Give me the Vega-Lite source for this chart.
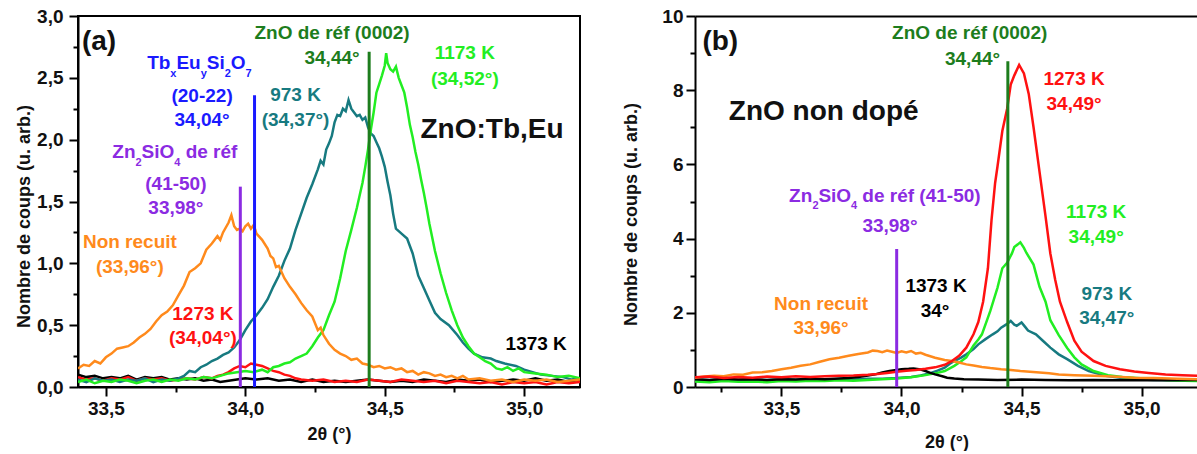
{
  "$schema": "https://vega.github.io/schema/vega-lite/v6.json",
  "background": "white",
  "padding": {"left": 14, "top": 6, "right": 0, "bottom": 0},
  "autosize": {"type": "pad"},
  "spacing": 41,
  "resolve": {"scale": {"x": "independent", "y": "independent"}},
  "config": {
    "font": "Liberation Sans",
    "view": {"stroke": "#000000", "strokeWidth": 2},
    "axis": {
      "grid": false,
      "domainColor": "#000000", "domainWidth": 2,
      "tickColor": "#000000", "tickWidth": 2, "tickSize": 9,
      "labelFont": "Liberation Sans", "labelFontSize": 19, "labelFontWeight": "bold", "labelColor": "#111111",
      "labelPadding": 6,
      "titleFont": "Liberation Sans", "titleFontSize": 18, "titleFontWeight": "bold", "titleColor": "#111111"
    },
    "text": {"font": "Liberation Sans", "fontWeight": "bold"}
  },
  "datasets": {
    "a_curves": [
      {"s":"1373 K","x":33.40,"y":0.10},{"s":"1373 K","x":33.43,"y":0.08},{"s":"1373 K","x":33.46,"y":0.09},{"s":"1373 K","x":33.49,"y":0.07},{"s":"1373 K","x":33.52,"y":0.08},{"s":"1373 K","x":33.55,"y":0.07},{"s":"1373 K","x":33.58,"y":0.09},{"s":"1373 K","x":33.61,"y":0.06},{"s":"1373 K","x":33.64,"y":0.08},{"s":"1373 K","x":33.67,"y":0.07},{"s":"1373 K","x":33.70,"y":0.08},{"s":"1373 K","x":33.73,"y":0.06},{"s":"1373 K","x":33.76,"y":0.07},{"s":"1373 K","x":33.79,"y":0.06},{"s":"1373 K","x":33.82,"y":0.07},{"s":"1373 K","x":33.85,"y":0.05},{"s":"1373 K","x":33.88,"y":0.06},{"s":"1373 K","x":33.91,"y":0.04},{"s":"1373 K","x":33.94,"y":0.05},{"s":"1373 K","x":33.97,"y":0.06},{"s":"1373 K","x":34.00,"y":0.07},{"s":"1373 K","x":34.04,"y":0.06},{"s":"1373 K","x":34.08,"y":0.07},{"s":"1373 K","x":34.12,"y":0.05},{"s":"1373 K","x":34.16,"y":0.06},{"s":"1373 K","x":34.20,"y":0.04},{"s":"1373 K","x":34.24,"y":0.06},{"s":"1373 K","x":34.28,"y":0.04},{"s":"1373 K","x":34.32,"y":0.05},{"s":"1373 K","x":34.36,"y":0.04},{"s":"1373 K","x":34.40,"y":0.05},{"s":"1373 K","x":34.44,"y":0.06},{"s":"1373 K","x":34.48,"y":0.05},{"s":"1373 K","x":34.52,"y":0.04},{"s":"1373 K","x":34.56,"y":0.05},{"s":"1373 K","x":34.60,"y":0.04},{"s":"1373 K","x":34.64,"y":0.06},{"s":"1373 K","x":34.68,"y":0.05},{"s":"1373 K","x":34.72,"y":0.04},{"s":"1373 K","x":34.76,"y":0.06},{"s":"1373 K","x":34.80,"y":0.05},{"s":"1373 K","x":34.84,"y":0.06},{"s":"1373 K","x":34.88,"y":0.04},{"s":"1373 K","x":34.92,"y":0.05},{"s":"1373 K","x":34.96,"y":0.06},{"s":"1373 K","x":35.00,"y":0.05},{"s":"1373 K","x":35.04,"y":0.07},{"s":"1373 K","x":35.08,"y":0.05},{"s":"1373 K","x":35.12,"y":0.06},{"s":"1373 K","x":35.16,"y":0.04},{"s":"1373 K","x":35.20,"y":0.06},
      {"s":"1273 K","x":33.40,"y":0.08},{"s":"1273 K","x":33.43,"y":0.06},{"s":"1273 K","x":33.46,"y":0.07},{"s":"1273 K","x":33.49,"y":0.05},{"s":"1273 K","x":33.52,"y":0.07},{"s":"1273 K","x":33.55,"y":0.06},{"s":"1273 K","x":33.58,"y":0.08},{"s":"1273 K","x":33.61,"y":0.05},{"s":"1273 K","x":33.64,"y":0.07},{"s":"1273 K","x":33.67,"y":0.06},{"s":"1273 K","x":33.70,"y":0.07},{"s":"1273 K","x":33.73,"y":0.05},{"s":"1273 K","x":33.76,"y":0.06},{"s":"1273 K","x":33.79,"y":0.07},{"s":"1273 K","x":33.82,"y":0.06},{"s":"1273 K","x":33.85,"y":0.08},{"s":"1273 K","x":33.88,"y":0.07},{"s":"1273 K","x":33.90,"y":0.09},{"s":"1273 K","x":33.92,"y":0.10},{"s":"1273 K","x":33.94,"y":0.12},{"s":"1273 K","x":33.96,"y":0.15},{"s":"1273 K","x":33.98,"y":0.17},{"s":"1273 K","x":34.00,"y":0.16},{"s":"1273 K","x":34.02,"y":0.19},{"s":"1273 K","x":34.04,"y":0.18},{"s":"1273 K","x":34.06,"y":0.17},{"s":"1273 K","x":34.08,"y":0.15},{"s":"1273 K","x":34.10,"y":0.13},{"s":"1273 K","x":34.12,"y":0.12},{"s":"1273 K","x":34.14,"y":0.10},{"s":"1273 K","x":34.16,"y":0.09},{"s":"1273 K","x":34.18,"y":0.07},{"s":"1273 K","x":34.20,"y":0.06},{"s":"1273 K","x":34.24,"y":0.05},{"s":"1273 K","x":34.28,"y":0.06},{"s":"1273 K","x":34.32,"y":0.04},{"s":"1273 K","x":34.36,"y":0.05},{"s":"1273 K","x":34.40,"y":0.04},{"s":"1273 K","x":34.44,"y":0.06},{"s":"1273 K","x":34.48,"y":0.05},{"s":"1273 K","x":34.52,"y":0.04},{"s":"1273 K","x":34.56,"y":0.06},{"s":"1273 K","x":34.60,"y":0.05},{"s":"1273 K","x":34.64,"y":0.04},{"s":"1273 K","x":34.68,"y":0.05},{"s":"1273 K","x":34.72,"y":0.03},{"s":"1273 K","x":34.76,"y":0.05},{"s":"1273 K","x":34.80,"y":0.04},{"s":"1273 K","x":34.84,"y":0.03},{"s":"1273 K","x":34.88,"y":0.04},{"s":"1273 K","x":34.92,"y":0.02},{"s":"1273 K","x":34.96,"y":0.04},{"s":"1273 K","x":35.00,"y":0.03},{"s":"1273 K","x":35.04,"y":0.04},{"s":"1273 K","x":35.08,"y":0.02},{"s":"1273 K","x":35.12,"y":0.04},{"s":"1273 K","x":35.16,"y":0.03},{"s":"1273 K","x":35.20,"y":0.04},
      {"s":"973 K","x":33.40,"y":0.06},{"s":"973 K","x":33.43,"y":0.04},{"s":"973 K","x":33.46,"y":0.07},{"s":"973 K","x":33.49,"y":0.05},{"s":"973 K","x":33.52,"y":0.06},{"s":"973 K","x":33.55,"y":0.04},{"s":"973 K","x":33.58,"y":0.06},{"s":"973 K","x":33.61,"y":0.05},{"s":"973 K","x":33.64,"y":0.07},{"s":"973 K","x":33.67,"y":0.04},{"s":"973 K","x":33.70,"y":0.06},{"s":"973 K","x":33.73,"y":0.05},{"s":"973 K","x":33.76,"y":0.07},{"s":"973 K","x":33.78,"y":0.09},{"s":"973 K","x":33.80,"y":0.13},{"s":"973 K","x":33.82,"y":0.12},{"s":"973 K","x":33.84,"y":0.16},{"s":"973 K","x":33.86,"y":0.18},{"s":"973 K","x":33.88,"y":0.21},{"s":"973 K","x":33.90,"y":0.23},{"s":"973 K","x":33.92,"y":0.26},{"s":"973 K","x":33.94,"y":0.28},{"s":"973 K","x":33.96,"y":0.32},{"s":"973 K","x":33.98,"y":0.38},{"s":"973 K","x":34.00,"y":0.46},{"s":"973 K","x":34.02,"y":0.53},{"s":"973 K","x":34.04,"y":0.58},{"s":"973 K","x":34.06,"y":0.64},{"s":"973 K","x":34.08,"y":0.71},{"s":"973 K","x":34.10,"y":0.81},{"s":"973 K","x":34.12,"y":0.90},{"s":"973 K","x":34.14,"y":1.02},{"s":"973 K","x":34.16,"y":1.12},{"s":"973 K","x":34.18,"y":1.27},{"s":"973 K","x":34.20,"y":1.40},{"s":"973 K","x":34.22,"y":1.53},{"s":"973 K","x":34.24,"y":1.64},{"s":"973 K","x":34.26,"y":1.76},{"s":"973 K","x":34.27,"y":1.83},{"s":"973 K","x":34.28,"y":1.80},{"s":"973 K","x":34.29,"y":1.92},{"s":"973 K","x":34.30,"y":1.97},{"s":"973 K","x":34.31,"y":2.03},{"s":"973 K","x":34.32,"y":2.14},{"s":"973 K","x":34.33,"y":2.20},{"s":"973 K","x":34.34,"y":2.19},{"s":"973 K","x":34.35,"y":2.25},{"s":"973 K","x":34.36,"y":2.23},{"s":"973 K","x":34.37,"y":2.32},{"s":"973 K","x":34.38,"y":2.25},{"s":"973 K","x":34.39,"y":2.22},{"s":"973 K","x":34.40,"y":2.19},{"s":"973 K","x":34.41,"y":2.20},{"s":"973 K","x":34.42,"y":2.16},{"s":"973 K","x":34.43,"y":2.18},{"s":"973 K","x":34.44,"y":2.10},{"s":"973 K","x":34.45,"y":2.05},{"s":"973 K","x":34.46,"y":2.03},{"s":"973 K","x":34.47,"y":1.98},{"s":"973 K","x":34.48,"y":1.93},{"s":"973 K","x":34.49,"y":1.86},{"s":"973 K","x":34.50,"y":1.78},{"s":"973 K","x":34.51,"y":1.66},{"s":"973 K","x":34.52,"y":1.55},{"s":"973 K","x":34.53,"y":1.40},{"s":"973 K","x":34.54,"y":1.28},{"s":"973 K","x":34.56,"y":1.24},{"s":"973 K","x":34.58,"y":1.20},{"s":"973 K","x":34.60,"y":1.08},{"s":"973 K","x":34.62,"y":0.90},{"s":"973 K","x":34.64,"y":0.80},{"s":"973 K","x":34.66,"y":0.70},{"s":"973 K","x":34.68,"y":0.60},{"s":"973 K","x":34.70,"y":0.55},{"s":"973 K","x":34.73,"y":0.50},{"s":"973 K","x":34.76,"y":0.42},{"s":"973 K","x":34.78,"y":0.36},{"s":"973 K","x":34.80,"y":0.31},{"s":"973 K","x":34.82,"y":0.27},{"s":"973 K","x":34.85,"y":0.24},{"s":"973 K","x":34.88,"y":0.23},{"s":"973 K","x":34.90,"y":0.21},{"s":"973 K","x":34.93,"y":0.19},{"s":"973 K","x":34.97,"y":0.17},{"s":"973 K","x":35.00,"y":0.14},{"s":"973 K","x":35.03,"y":0.12},{"s":"973 K","x":35.06,"y":0.10},{"s":"973 K","x":35.10,"y":0.09},{"s":"973 K","x":35.14,"y":0.08},{"s":"973 K","x":35.17,"y":0.06},{"s":"973 K","x":35.20,"y":0.07},
      {"s":"1173 K","x":33.40,"y":0.04},{"s":"1173 K","x":33.43,"y":0.06},{"s":"1173 K","x":33.46,"y":0.03},{"s":"1173 K","x":33.49,"y":0.05},{"s":"1173 K","x":33.52,"y":0.04},{"s":"1173 K","x":33.55,"y":0.06},{"s":"1173 K","x":33.58,"y":0.05},{"s":"1173 K","x":33.61,"y":0.03},{"s":"1173 K","x":33.64,"y":0.05},{"s":"1173 K","x":33.67,"y":0.06},{"s":"1173 K","x":33.70,"y":0.04},{"s":"1173 K","x":33.73,"y":0.06},{"s":"1173 K","x":33.76,"y":0.05},{"s":"1173 K","x":33.79,"y":0.07},{"s":"1173 K","x":33.82,"y":0.06},{"s":"1173 K","x":33.85,"y":0.08},{"s":"1173 K","x":33.88,"y":0.07},{"s":"1173 K","x":33.91,"y":0.09},{"s":"1173 K","x":33.94,"y":0.11},{"s":"1173 K","x":33.97,"y":0.12},{"s":"1173 K","x":34.00,"y":0.13},{"s":"1173 K","x":34.03,"y":0.12},{"s":"1173 K","x":34.06,"y":0.14},{"s":"1173 K","x":34.08,"y":0.12},{"s":"1173 K","x":34.10,"y":0.16},{"s":"1173 K","x":34.12,"y":0.17},{"s":"1173 K","x":34.14,"y":0.19},{"s":"1173 K","x":34.16,"y":0.20},{"s":"1173 K","x":34.18,"y":0.23},{"s":"1173 K","x":34.20,"y":0.25},{"s":"1173 K","x":34.22,"y":0.27},{"s":"1173 K","x":34.24,"y":0.33},{"s":"1173 K","x":34.26,"y":0.40},{"s":"1173 K","x":34.28,"y":0.46},{"s":"1173 K","x":34.30,"y":0.58},{"s":"1173 K","x":34.32,"y":0.69},{"s":"1173 K","x":34.34,"y":0.88},{"s":"1173 K","x":34.36,"y":1.10},{"s":"1173 K","x":34.38,"y":1.27},{"s":"1173 K","x":34.40,"y":1.45},{"s":"1173 K","x":34.41,"y":1.55},{"s":"1173 K","x":34.42,"y":1.65},{"s":"1173 K","x":34.43,"y":1.78},{"s":"1173 K","x":34.44,"y":1.92},{"s":"1173 K","x":34.45,"y":2.08},{"s":"1173 K","x":34.46,"y":2.22},{"s":"1173 K","x":34.47,"y":2.38},{"s":"1173 K","x":34.48,"y":2.45},{"s":"1173 K","x":34.49,"y":2.52},{"s":"1173 K","x":34.50,"y":2.60},{"s":"1173 K","x":34.505,"y":2.70},{"s":"1173 K","x":34.51,"y":2.62},{"s":"1173 K","x":34.52,"y":2.57},{"s":"1173 K","x":34.53,"y":2.55},{"s":"1173 K","x":34.54,"y":2.59},{"s":"1173 K","x":34.55,"y":2.50},{"s":"1173 K","x":34.56,"y":2.44},{"s":"1173 K","x":34.57,"y":2.38},{"s":"1173 K","x":34.58,"y":2.26},{"s":"1173 K","x":34.59,"y":2.12},{"s":"1173 K","x":34.60,"y":2.02},{"s":"1173 K","x":34.61,"y":1.90},{"s":"1173 K","x":34.62,"y":1.80},{"s":"1173 K","x":34.63,"y":1.68},{"s":"1173 K","x":34.64,"y":1.57},{"s":"1173 K","x":34.65,"y":1.45},{"s":"1173 K","x":34.66,"y":1.32},{"s":"1173 K","x":34.68,"y":1.10},{"s":"1173 K","x":34.70,"y":0.92},{"s":"1173 K","x":34.72,"y":0.76},{"s":"1173 K","x":34.74,"y":0.62},{"s":"1173 K","x":34.76,"y":0.50},{"s":"1173 K","x":34.78,"y":0.40},{"s":"1173 K","x":34.80,"y":0.33},{"s":"1173 K","x":34.82,"y":0.27},{"s":"1173 K","x":34.84,"y":0.24},{"s":"1173 K","x":34.86,"y":0.21},{"s":"1173 K","x":34.88,"y":0.19},{"s":"1173 K","x":34.90,"y":0.15},{"s":"1173 K","x":34.92,"y":0.14},{"s":"1173 K","x":34.94,"y":0.16},{"s":"1173 K","x":34.96,"y":0.13},{"s":"1173 K","x":34.98,"y":0.15},{"s":"1173 K","x":35.00,"y":0.12},{"s":"1173 K","x":35.04,"y":0.11},{"s":"1173 K","x":35.08,"y":0.10},{"s":"1173 K","x":35.12,"y":0.08},{"s":"1173 K","x":35.16,"y":0.09},{"s":"1173 K","x":35.20,"y":0.07},
      {"s":"Non recuit","x":33.40,"y":0.15},{"s":"Non recuit","x":33.42,"y":0.18},{"s":"Non recuit","x":33.44,"y":0.17},{"s":"Non recuit","x":33.46,"y":0.21},{"s":"Non recuit","x":33.48,"y":0.19},{"s":"Non recuit","x":33.50,"y":0.24},{"s":"Non recuit","x":33.52,"y":0.27},{"s":"Non recuit","x":33.54,"y":0.31},{"s":"Non recuit","x":33.56,"y":0.32},{"s":"Non recuit","x":33.58,"y":0.33},{"s":"Non recuit","x":33.60,"y":0.36},{"s":"Non recuit","x":33.62,"y":0.40},{"s":"Non recuit","x":33.64,"y":0.43},{"s":"Non recuit","x":33.66,"y":0.47},{"s":"Non recuit","x":33.68,"y":0.53},{"s":"Non recuit","x":33.70,"y":0.58},{"s":"Non recuit","x":33.72,"y":0.61},{"s":"Non recuit","x":33.74,"y":0.66},{"s":"Non recuit","x":33.76,"y":0.74},{"s":"Non recuit","x":33.78,"y":0.82},{"s":"Non recuit","x":33.80,"y":0.93},{"s":"Non recuit","x":33.82,"y":0.96},{"s":"Non recuit","x":33.84,"y":1.00},{"s":"Non recuit","x":33.86,"y":1.11},{"s":"Non recuit","x":33.88,"y":1.16},{"s":"Non recuit","x":33.90,"y":1.22},{"s":"Non recuit","x":33.91,"y":1.19},{"s":"Non recuit","x":33.92,"y":1.25},{"s":"Non recuit","x":33.94,"y":1.33},{"s":"Non recuit","x":33.95,"y":1.39},{"s":"Non recuit","x":33.96,"y":1.30},{"s":"Non recuit","x":33.97,"y":1.27},{"s":"Non recuit","x":33.98,"y":1.28},{"s":"Non recuit","x":33.99,"y":1.26},{"s":"Non recuit","x":34.00,"y":1.30},{"s":"Non recuit","x":34.01,"y":1.32},{"s":"Non recuit","x":34.02,"y":1.28},{"s":"Non recuit","x":34.03,"y":1.31},{"s":"Non recuit","x":34.04,"y":1.24},{"s":"Non recuit","x":34.06,"y":1.19},{"s":"Non recuit","x":34.08,"y":1.12},{"s":"Non recuit","x":34.09,"y":1.06},{"s":"Non recuit","x":34.10,"y":1.04},{"s":"Non recuit","x":34.11,"y":0.97},{"s":"Non recuit","x":34.12,"y":0.98},{"s":"Non recuit","x":34.14,"y":0.88},{"s":"Non recuit","x":34.16,"y":0.81},{"s":"Non recuit","x":34.18,"y":0.75},{"s":"Non recuit","x":34.20,"y":0.68},{"s":"Non recuit","x":34.22,"y":0.62},{"s":"Non recuit","x":34.24,"y":0.57},{"s":"Non recuit","x":34.26,"y":0.46},{"s":"Non recuit","x":34.27,"y":0.48},{"s":"Non recuit","x":34.28,"y":0.42},{"s":"Non recuit","x":34.30,"y":0.35},{"s":"Non recuit","x":34.32,"y":0.30},{"s":"Non recuit","x":34.34,"y":0.27},{"s":"Non recuit","x":34.36,"y":0.25},{"s":"Non recuit","x":34.38,"y":0.22},{"s":"Non recuit","x":34.40,"y":0.23},{"s":"Non recuit","x":34.42,"y":0.19},{"s":"Non recuit","x":34.44,"y":0.18},{"s":"Non recuit","x":34.46,"y":0.16},{"s":"Non recuit","x":34.48,"y":0.17},{"s":"Non recuit","x":34.50,"y":0.15},{"s":"Non recuit","x":34.52,"y":0.16},{"s":"Non recuit","x":34.54,"y":0.14},{"s":"Non recuit","x":34.56,"y":0.15},{"s":"Non recuit","x":34.58,"y":0.12},{"s":"Non recuit","x":34.60,"y":0.13},{"s":"Non recuit","x":34.62,"y":0.10},{"s":"Non recuit","x":34.64,"y":0.12},{"s":"Non recuit","x":34.66,"y":0.11},{"s":"Non recuit","x":34.68,"y":0.09},{"s":"Non recuit","x":34.70,"y":0.10},{"s":"Non recuit","x":34.72,"y":0.08},{"s":"Non recuit","x":34.74,"y":0.09},{"s":"Non recuit","x":34.76,"y":0.07},{"s":"Non recuit","x":34.78,"y":0.09},{"s":"Non recuit","x":34.80,"y":0.06},{"s":"Non recuit","x":34.84,"y":0.07},{"s":"Non recuit","x":34.88,"y":0.05},{"s":"Non recuit","x":34.92,"y":0.06},{"s":"Non recuit","x":34.96,"y":0.04},{"s":"Non recuit","x":35.00,"y":0.06},{"s":"Non recuit","x":35.04,"y":0.05},{"s":"Non recuit","x":35.08,"y":0.06},{"s":"Non recuit","x":35.12,"y":0.04},{"s":"Non recuit","x":35.16,"y":0.05},{"s":"Non recuit","x":35.20,"y":0.06}
    ],
    "a_refs": [
      {"s":"Zn2SiO4 ref","x":33.982,"y":1.62},
      {"s":"TbEuSi2O7 ref","x":34.033,"y":2.36},
      {"s":"ZnO ref","x":34.444,"y":2.71}
    ],
    "a_lab": [
      {"s":"ZnO ref","x":34.311,"y":2.86,"t":"ZnO de réf (0002)"},
      {"s":"ZnO ref","x":34.311,"y":2.66,"t":"34,44°"},
      {"s":"TbEuSi2O7 ref","x":33.845,"y":2.35,"t":"(20-22)"},
      {"s":"TbEuSi2O7 ref","x":33.845,"y":2.16,"t":"34,04°"},
      {"s":"Zn2SiO4 ref","x":33.751,"y":1.64,"t":"(41-50)"},
      {"s":"Zn2SiO4 ref","x":33.751,"y":1.45,"t":"33,98°"},
      {"s":"Non recuit","x":33.586,"y":1.17,"t":"Non recuit"},
      {"s":"Non recuit","x":33.586,"y":0.97,"t":"(33,96°)"},
      {"s":"1273 K","x":33.848,"y":0.59,"t":"1273 K"},
      {"s":"1273 K","x":33.848,"y":0.40,"t":"(34,04°)"},
      {"s":"973 K","x":34.18,"y":2.36,"t":"973 K"},
      {"s":"973 K","x":34.18,"y":2.16,"t":"(34,37°)"},
      {"s":"1173 K","x":34.787,"y":2.70,"t":"1173 K"},
      {"s":"1173 K","x":34.787,"y":2.49,"t":"(34,52°)"},
      {"s":"1373 K","x":35.043,"y":0.35,"t":"1373 K"}
    ],
    "a_pieces": [
      {"s":"TbEuSi2O7 ref","x":33.648,"y":2.616,"t":"Tb"},
      {"s":"TbEuSi2O7 ref","x":33.753,"y":2.616,"t":"Eu"},
      {"s":"TbEuSi2O7 ref","x":33.862,"y":2.616,"t":"Si"},
      {"s":"TbEuSi2O7 ref","x":33.948,"y":2.616,"t":"O"},
      {"s":"Zn2SiO4 ref","x":33.523,"y":1.90,"t":"Zn"},
      {"s":"Zn2SiO4 ref","x":33.628,"y":1.90,"t":"SiO"},
      {"s":"Zn2SiO4 ref","x":33.786,"y":1.90,"t":"de réf"}
    ],
    "a_subs": [
      {"s":"TbEuSi2O7 ref","x":33.731,"y":2.53,"t":"x"},
      {"s":"TbEuSi2O7 ref","x":33.840,"y":2.53,"t":"y"},
      {"s":"TbEuSi2O7 ref","x":33.926,"y":2.53,"t":"2"},
      {"s":"TbEuSi2O7 ref","x":34.001,"y":2.53,"t":"7"},
      {"s":"Zn2SiO4 ref","x":33.606,"y":1.814,"t":"2"},
      {"s":"Zn2SiO4 ref","x":33.745,"y":1.814,"t":"4"}
    ],
    "a_big": [
      {"s":"texte","x":33.414,"y":2.79,"t":"(a)"},
      {"s":"texte","x":34.628,"y":2.08,"t":"ZnO:Tb,Eu"}
    ],
    "b_curves": [
      {"s":"973 K","x":33.14,"y":0.20},{"s":"973 K","x":33.20,"y":0.18},{"s":"973 K","x":33.26,"y":0.21},{"s":"973 K","x":33.32,"y":0.19},{"s":"973 K","x":33.38,"y":0.20},{"s":"973 K","x":33.44,"y":0.18},{"s":"973 K","x":33.50,"y":0.21},{"s":"973 K","x":33.56,"y":0.19},{"s":"973 K","x":33.62,"y":0.20},{"s":"973 K","x":33.68,"y":0.19},{"s":"973 K","x":33.74,"y":0.21},{"s":"973 K","x":33.80,"y":0.20},{"s":"973 K","x":33.86,"y":0.22},{"s":"973 K","x":33.92,"y":0.22},{"s":"973 K","x":33.98,"y":0.24},{"s":"973 K","x":34.04,"y":0.27},{"s":"973 K","x":34.08,"y":0.31},{"s":"973 K","x":34.12,"y":0.37},{"s":"973 K","x":34.15,"y":0.44},{"s":"973 K","x":34.18,"y":0.52},{"s":"973 K","x":34.20,"y":0.62},{"s":"973 K","x":34.22,"y":0.70},{"s":"973 K","x":34.25,"y":0.80},{"s":"973 K","x":34.27,"y":0.88},{"s":"973 K","x":34.30,"y":1.02},{"s":"973 K","x":34.32,"y":1.15},{"s":"973 K","x":34.35,"y":1.29},{"s":"973 K","x":34.38,"y":1.42},{"s":"973 K","x":34.40,"y":1.50},{"s":"973 K","x":34.415,"y":1.60},{"s":"973 K","x":34.44,"y":1.70},{"s":"973 K","x":34.455,"y":1.78},{"s":"973 K","x":34.47,"y":1.68},{"s":"973 K","x":34.48,"y":1.65},{"s":"973 K","x":34.50,"y":1.74},{"s":"973 K","x":34.515,"y":1.62},{"s":"973 K","x":34.527,"y":1.52},{"s":"973 K","x":34.56,"y":1.42},{"s":"973 K","x":34.59,"y":1.24},{"s":"973 K","x":34.62,"y":1.06},{"s":"973 K","x":34.655,"y":0.88},{"s":"973 K","x":34.69,"y":0.75},{"s":"973 K","x":34.735,"y":0.57},{"s":"973 K","x":34.78,"y":0.43},{"s":"973 K","x":34.85,"y":0.30},{"s":"973 K","x":34.91,"y":0.25},{"s":"973 K","x":34.97,"y":0.21},{"s":"973 K","x":35.05,"y":0.19},{"s":"973 K","x":35.15,"y":0.18},{"s":"973 K","x":35.24,"y":0.18},
      {"s":"1173 K","x":33.14,"y":0.15},{"s":"1173 K","x":33.20,"y":0.13},{"s":"1173 K","x":33.26,"y":0.16},{"s":"1173 K","x":33.32,"y":0.14},{"s":"1173 K","x":33.38,"y":0.15},{"s":"1173 K","x":33.44,"y":0.13},{"s":"1173 K","x":33.50,"y":0.16},{"s":"1173 K","x":33.56,"y":0.15},{"s":"1173 K","x":33.62,"y":0.17},{"s":"1173 K","x":33.68,"y":0.16},{"s":"1173 K","x":33.74,"y":0.18},{"s":"1173 K","x":33.80,"y":0.17},{"s":"1173 K","x":33.86,"y":0.19},{"s":"1173 K","x":33.92,"y":0.21},{"s":"1173 K","x":33.98,"y":0.23},{"s":"1173 K","x":34.04,"y":0.26},{"s":"1173 K","x":34.10,"y":0.32},{"s":"1173 K","x":34.15,"y":0.38},{"s":"1173 K","x":34.18,"y":0.43},{"s":"1173 K","x":34.22,"y":0.57},{"s":"1173 K","x":34.25,"y":0.70},{"s":"1173 K","x":34.27,"y":0.80},{"s":"1173 K","x":34.30,"y":1.12},{"s":"1173 K","x":34.32,"y":1.28},{"s":"1173 K","x":34.335,"y":1.42},{"s":"1173 K","x":34.37,"y":2.05},{"s":"1173 K","x":34.40,"y":2.68},{"s":"1173 K","x":34.42,"y":3.20},{"s":"1173 K","x":34.44,"y":3.35},{"s":"1173 K","x":34.46,"y":3.60},{"s":"1173 K","x":34.47,"y":3.77},{"s":"1173 K","x":34.495,"y":3.90},{"s":"1173 K","x":34.51,"y":3.75},{"s":"1173 K","x":34.52,"y":3.62},{"s":"1173 K","x":34.55,"y":3.30},{"s":"1173 K","x":34.575,"y":2.70},{"s":"1173 K","x":34.60,"y":2.30},{"s":"1173 K","x":34.62,"y":1.80},{"s":"1173 K","x":34.655,"y":1.40},{"s":"1173 K","x":34.69,"y":1.05},{"s":"1173 K","x":34.72,"y":0.80},{"s":"1173 K","x":34.75,"y":0.61},{"s":"1173 K","x":34.80,"y":0.43},{"s":"1173 K","x":34.86,"y":0.32},{"s":"1173 K","x":34.92,"y":0.27},{"s":"1173 K","x":34.98,"y":0.24},{"s":"1173 K","x":35.05,"y":0.21},{"s":"1173 K","x":35.12,"y":0.18},{"s":"1173 K","x":35.18,"y":0.17},{"s":"1173 K","x":35.24,"y":0.16},
      {"s":"1373 K","x":33.14,"y":0.21},{"s":"1373 K","x":33.20,"y":0.19},{"s":"1373 K","x":33.26,"y":0.22},{"s":"1373 K","x":33.32,"y":0.20},{"s":"1373 K","x":33.38,"y":0.21},{"s":"1373 K","x":33.44,"y":0.19},{"s":"1373 K","x":33.50,"y":0.21},{"s":"1373 K","x":33.56,"y":0.20},{"s":"1373 K","x":33.62,"y":0.22},{"s":"1373 K","x":33.68,"y":0.21},{"s":"1373 K","x":33.74,"y":0.23},{"s":"1373 K","x":33.78,"y":0.24},{"s":"1373 K","x":33.82,"y":0.27},{"s":"1373 K","x":33.86,"y":0.31},{"s":"1373 K","x":33.89,"y":0.34},{"s":"1373 K","x":33.92,"y":0.39},{"s":"1373 K","x":33.95,"y":0.43},{"s":"1373 K","x":33.98,"y":0.46},{"s":"1373 K","x":34.00,"y":0.48},{"s":"1373 K","x":34.03,"y":0.49},{"s":"1373 K","x":34.05,"y":0.50},{"s":"1373 K","x":34.08,"y":0.47},{"s":"1373 K","x":34.10,"y":0.43},{"s":"1373 K","x":34.12,"y":0.38},{"s":"1373 K","x":34.14,"y":0.34},{"s":"1373 K","x":34.17,"y":0.29},{"s":"1373 K","x":34.19,"y":0.25},{"s":"1373 K","x":34.22,"y":0.23},{"s":"1373 K","x":34.26,"y":0.21},{"s":"1373 K","x":34.32,"y":0.20},{"s":"1373 K","x":34.40,"y":0.19},{"s":"1373 K","x":34.50,"y":0.20},{"s":"1373 K","x":34.60,"y":0.19},{"s":"1373 K","x":34.70,"y":0.18},{"s":"1373 K","x":34.80,"y":0.19},{"s":"1373 K","x":34.90,"y":0.18},{"s":"1373 K","x":35.00,"y":0.19},{"s":"1373 K","x":35.10,"y":0.18},{"s":"1373 K","x":35.24,"y":0.19},
      {"s":"Non recuit","x":33.14,"y":0.25},{"s":"Non recuit","x":33.18,"y":0.28},{"s":"Non recuit","x":33.22,"y":0.30},{"s":"Non recuit","x":33.26,"y":0.29},{"s":"Non recuit","x":33.30,"y":0.34},{"s":"Non recuit","x":33.34,"y":0.33},{"s":"Non recuit","x":33.38,"y":0.39},{"s":"Non recuit","x":33.42,"y":0.40},{"s":"Non recuit","x":33.46,"y":0.43},{"s":"Non recuit","x":33.50,"y":0.48},{"s":"Non recuit","x":33.54,"y":0.52},{"s":"Non recuit","x":33.58,"y":0.57},{"s":"Non recuit","x":33.62,"y":0.61},{"s":"Non recuit","x":33.66,"y":0.68},{"s":"Non recuit","x":33.70,"y":0.75},{"s":"Non recuit","x":33.74,"y":0.79},{"s":"Non recuit","x":33.78,"y":0.84},{"s":"Non recuit","x":33.82,"y":0.89},{"s":"Non recuit","x":33.86,"y":0.93},{"s":"Non recuit","x":33.88,"y":0.98},{"s":"Non recuit","x":33.90,"y":0.97},{"s":"Non recuit","x":33.92,"y":0.94},{"s":"Non recuit","x":33.94,"y":0.98},{"s":"Non recuit","x":33.96,"y":0.95},{"s":"Non recuit","x":33.98,"y":0.92},{"s":"Non recuit","x":34.00,"y":0.96},{"s":"Non recuit","x":34.02,"y":0.93},{"s":"Non recuit","x":34.04,"y":0.97},{"s":"Non recuit","x":34.06,"y":0.90},{"s":"Non recuit","x":34.08,"y":0.92},{"s":"Non recuit","x":34.10,"y":0.87},{"s":"Non recuit","x":34.14,"y":0.79},{"s":"Non recuit","x":34.18,"y":0.73},{"s":"Non recuit","x":34.21,"y":0.70},{"s":"Non recuit","x":34.24,"y":0.66},{"s":"Non recuit","x":34.27,"y":0.61},{"s":"Non recuit","x":34.30,"y":0.58},{"s":"Non recuit","x":34.335,"y":0.54},{"s":"Non recuit","x":34.37,"y":0.51},{"s":"Non recuit","x":34.415,"y":0.48},{"s":"Non recuit","x":34.455,"y":0.46},{"s":"Non recuit","x":34.495,"y":0.43},{"s":"Non recuit","x":34.535,"y":0.41},{"s":"Non recuit","x":34.575,"y":0.39},{"s":"Non recuit","x":34.615,"y":0.37},{"s":"Non recuit","x":34.655,"y":0.34},{"s":"Non recuit","x":34.72,"y":0.32},{"s":"Non recuit","x":34.80,"y":0.30},{"s":"Non recuit","x":34.88,"y":0.28},{"s":"Non recuit","x":34.97,"y":0.25},{"s":"Non recuit","x":35.05,"y":0.24},{"s":"Non recuit","x":35.15,"y":0.22},{"s":"Non recuit","x":35.24,"y":0.21},
      {"s":"1273 K","x":33.14,"y":0.26},{"s":"1273 K","x":33.20,"y":0.28},{"s":"1273 K","x":33.26,"y":0.24},{"s":"1273 K","x":33.32,"y":0.27},{"s":"1273 K","x":33.38,"y":0.25},{"s":"1273 K","x":33.44,"y":0.28},{"s":"1273 K","x":33.50,"y":0.26},{"s":"1273 K","x":33.56,"y":0.29},{"s":"1273 K","x":33.62,"y":0.27},{"s":"1273 K","x":33.68,"y":0.29},{"s":"1273 K","x":33.74,"y":0.30},{"s":"1273 K","x":33.80,"y":0.31},{"s":"1273 K","x":33.86,"y":0.33},{"s":"1273 K","x":33.90,"y":0.35},{"s":"1273 K","x":33.94,"y":0.38},{"s":"1273 K","x":33.98,"y":0.41},{"s":"1273 K","x":34.02,"y":0.44},{"s":"1273 K","x":34.06,"y":0.46},{"s":"1273 K","x":34.10,"y":0.49},{"s":"1273 K","x":34.14,"y":0.53},{"s":"1273 K","x":34.18,"y":0.60},{"s":"1273 K","x":34.21,"y":0.70},{"s":"1273 K","x":34.24,"y":0.84},{"s":"1273 K","x":34.27,"y":1.06},{"s":"1273 K","x":34.30,"y":1.42},{"s":"1273 K","x":34.32,"y":1.75},{"s":"1273 K","x":34.34,"y":2.30},{"s":"1273 K","x":34.36,"y":3.20},{"s":"1273 K","x":34.375,"y":4.50},{"s":"1273 K","x":34.39,"y":5.50},{"s":"1273 K","x":34.40,"y":5.95},{"s":"1273 K","x":34.42,"y":6.90},{"s":"1273 K","x":34.44,"y":7.50},{"s":"1273 K","x":34.455,"y":8.15},{"s":"1273 K","x":34.47,"y":8.40},{"s":"1273 K","x":34.49,"y":8.68},{"s":"1273 K","x":34.51,"y":8.45},{"s":"1273 K","x":34.53,"y":7.90},{"s":"1273 K","x":34.55,"y":7.00},{"s":"1273 K","x":34.575,"y":5.80},{"s":"1273 K","x":34.60,"y":4.60},{"s":"1273 K","x":34.62,"y":3.60},{"s":"1273 K","x":34.64,"y":2.90},{"s":"1273 K","x":34.66,"y":2.30},{"s":"1273 K","x":34.69,"y":1.75},{"s":"1273 K","x":34.72,"y":1.25},{"s":"1273 K","x":34.75,"y":0.95},{"s":"1273 K","x":34.80,"y":0.70},{"s":"1273 K","x":34.85,"y":0.57},{"s":"1273 K","x":34.91,"y":0.48},{"s":"1273 K","x":34.97,"y":0.42},{"s":"1273 K","x":35.03,"y":0.38},{"s":"1273 K","x":35.10,"y":0.34},{"s":"1273 K","x":35.17,"y":0.32},{"s":"1273 K","x":35.24,"y":0.30}
    ],
    "b_refs": [
      {"s":"Zn2SiO4 ref","x":33.98,"y":3.72},
      {"s":"ZnO ref","x":34.443,"y":8.78}
    ],
    "b_lab": [
      {"s":"ZnO ref","x":34.284,"y":9.53,"t":"ZnO de réf (0002)"},
      {"s":"ZnO ref","x":34.296,"y":8.83,"t":"34,44°"},
      {"s":"1273 K","x":34.719,"y":8.29,"t":"1273 K"},
      {"s":"1273 K","x":34.719,"y":7.64,"t":"34,49°"},
      {"s":"Zn2SiO4 ref","x":33.952,"y":4.35,"t":"33,98°"},
      {"s":"1173 K","x":34.811,"y":4.71,"t":"1173 K"},
      {"s":"1173 K","x":34.811,"y":4.04,"t":"34,49°"},
      {"s":"1373 K","x":34.144,"y":2.73,"t":"1373 K"},
      {"s":"1373 K","x":34.14,"y":2.05,"t":"34°"},
      {"s":"Non recuit","x":33.665,"y":2.25,"t":"Non recuit"},
      {"s":"Non recuit","x":33.665,"y":1.60,"t":"33,96°"},
      {"s":"973 K","x":34.855,"y":2.50,"t":"973 K"},
      {"s":"973 K","x":34.855,"y":1.86,"t":"34,47°"}
    ],
    "b_pieces": [
      {"s":"Zn2SiO4 ref","x":33.532,"y":5.16,"t":"Zn"},
      {"s":"Zn2SiO4 ref","x":33.654,"y":5.16,"t":"SiO"},
      {"s":"Zn2SiO4 ref","x":33.837,"y":5.16,"t":"de réf (41-50)"}
    ],
    "b_subs": [
      {"s":"Zn2SiO4 ref","x":33.629,"y":4.87,"t":"2"},
      {"s":"Zn2SiO4 ref","x":33.790,"y":4.87,"t":"4"}
    ],
    "b_big": [
      {"s":"texte","x":33.171,"y":9.30,"t":"(b)"},
      {"s":"texte","x":33.281,"y":7.41,"t":"ZnO non dopé"}
    ]
  },
  "hconcat": [
    {
      "width": 502,
      "height": 371,
      "resolve": {"axis": {"x": "independent", "y": "independent"}},
      "layer": [
        {
          "data": {"name": "a_curves"},
          "mark": {"type": "line", "strokeWidth": 2.5, "clip": true},
          "encoding": {
            "x": {"field": "x", "type": "quantitative", "scale": {"domain": [33.4, 35.2], "nice": false, "zero": false},
                  "axis": {"orient": "bottom", "values": [33.5, 34, 34.5, 35], "labelExpr": "replace(format(datum.value, '.1f'), '.', ',')", "title": "2θ (°)", "titlePadding": 7, "labelPadding": 3}},
            "y": {"field": "y", "type": "quantitative", "scale": {"domain": [0, 3], "nice": false, "zero": false},
                  "axis": {"orient": "left", "values": [0, 0.5, 1, 1.5, 2, 2.5, 3], "labelExpr": "replace(format(datum.value, '.1f'), '.', ',')", "title": "Nombre de coups (u. arb.)", "titlePadding": 3, "titleY": 200}},
            "color": {"field": "s", "type": "nominal", "legend": null,
                      "scale": {"domain": ["Non recuit","973 K","1173 K","1273 K","1373 K","ZnO ref","Zn2SiO4 ref","TbEuSi2O7 ref","texte"],
                                "range": ["#ff8a1c","#177a80","#22ee22","#ff1111","#000000","#1d7d1d","#8b2be2","#1a1aff","#111111"]}}
          }
        },
        {
          "data": {"name": "a_refs"},
          "mark": {"type": "rule", "strokeWidth": 3},
          "encoding": {
            "x": {"field": "x", "type": "quantitative", "axis": {"orient": "bottom", "values": [33.75, 34.25, 34.75], "labels": false, "tickSize": 5, "domain": false, "title": null}},
            "y": {"field": "y", "type": "quantitative", "axis": {"orient": "left", "values": [0.25, 0.75, 1.25, 1.75, 2.25, 2.75], "labels": false, "tickSize": 5, "domain": false, "title": null}},
            "y2": {"datum": 0},
            "color": {"field": "s", "type": "nominal", "legend": null}
          }
        },
        {
          "data": {"name": "a_lab"},
          "mark": {"type": "text", "fontSize": 19, "fontWeight": "bold", "align": "center", "baseline": "middle"},
          "encoding": {
            "x": {"field": "x", "type": "quantitative", "axis": null},
            "y": {"field": "y", "type": "quantitative", "axis": null},
            "text": {"field": "t"},
            "color": {"field": "s", "type": "nominal", "legend": null}
          }
        },
        {
          "data": {"name": "a_pieces"},
          "mark": {"type": "text", "fontSize": 19, "fontWeight": "bold", "align": "left", "baseline": "middle"},
          "encoding": {
            "x": {"field": "x", "type": "quantitative", "axis": null},
            "y": {"field": "y", "type": "quantitative", "axis": null},
            "text": {"field": "t"},
            "color": {"field": "s", "type": "nominal", "legend": null}
          }
        },
        {
          "data": {"name": "a_subs"},
          "mark": {"type": "text", "fontSize": 11, "fontWeight": "bold", "align": "left", "baseline": "middle"},
          "encoding": {
            "x": {"field": "x", "type": "quantitative", "axis": null},
            "y": {"field": "y", "type": "quantitative", "axis": null},
            "text": {"field": "t"},
            "color": {"field": "s", "type": "nominal", "legend": null}
          }
        },
        {
          "data": {"name": "a_big"},
          "mark": {"type": "text", "fontSize": 28, "fontWeight": "bold", "align": "left", "baseline": "middle"},
          "encoding": {
            "x": {"field": "x", "type": "quantitative", "axis": null},
            "y": {"field": "y", "type": "quantitative", "axis": null},
            "text": {"field": "t"},
            "color": {"field": "s", "type": "nominal", "legend": null}
          }
        }
      ]
    },
    {
      "width": 503,
      "height": 371,
      "view": {"stroke": null},
      "resolve": {"axis": {"x": "independent", "y": "independent"}},
      "layer": [
        {
          "data": {"name": "b_curves"},
          "mark": {"type": "line", "strokeWidth": 2.5, "clip": true},
          "encoding": {
            "x": {"field": "x", "type": "quantitative", "scale": {"domain": [33.14, 35.235], "nice": false, "zero": false},
                  "axis": {"orient": "bottom", "values": [33.5, 34, 34.5, 35], "labelExpr": "replace(format(datum.value, '.1f'), '.', ',')", "title": "2θ (°)", "titlePadding": 15, "labelPadding": 3}},
            "y": {"field": "y", "type": "quantitative", "scale": {"domain": [0, 10], "nice": false, "zero": false},
                  "axis": {"orient": "left", "values": [0, 2, 4, 6, 8, 10], "format": "d", "labelPadding": 3, "title": "Nombre de coups (u. arb.)", "titlePadding": 21, "titleY": 198}},
            "color": {"field": "s", "type": "nominal", "legend": null,
                      "scale": {"domain": ["Non recuit","973 K","1173 K","1273 K","1373 K","ZnO ref","Zn2SiO4 ref","TbEuSi2O7 ref","texte"],
                                "range": ["#ff8a1c","#177a80","#22ee22","#ff1111","#000000","#1d7d1d","#8b2be2","#1a1aff","#111111"]}}
          }
        },
        {
          "data": {"name": "b_refs"},
          "mark": {"type": "rule", "strokeWidth": 3},
          "encoding": {
            "x": {"field": "x", "type": "quantitative", "axis": {"orient": "bottom", "values": [33.25, 33.75, 34.25, 34.75], "labels": false, "tickSize": 5, "domain": false, "title": null}},
            "y": {"field": "y", "type": "quantitative", "axis": {"orient": "left", "values": [1, 3, 5, 7, 9], "labels": false, "tickSize": 5, "domain": false, "title": null}},
            "y2": {"datum": 0},
            "color": {"field": "s", "type": "nominal", "legend": null}
          }
        },
        {
          "data": {"name": "b_lab"},
          "mark": {"type": "text", "fontSize": 19, "fontWeight": "bold", "align": "center", "baseline": "middle"},
          "encoding": {
            "x": {"field": "x", "type": "quantitative", "axis": null},
            "y": {"field": "y", "type": "quantitative", "axis": null},
            "text": {"field": "t"},
            "color": {"field": "s", "type": "nominal", "legend": null}
          }
        },
        {
          "data": {"name": "b_pieces"},
          "mark": {"type": "text", "fontSize": 19, "fontWeight": "bold", "align": "left", "baseline": "middle"},
          "encoding": {
            "x": {"field": "x", "type": "quantitative", "axis": null},
            "y": {"field": "y", "type": "quantitative", "axis": null},
            "text": {"field": "t"},
            "color": {"field": "s", "type": "nominal", "legend": null}
          }
        },
        {
          "data": {"name": "b_subs"},
          "mark": {"type": "text", "fontSize": 11, "fontWeight": "bold", "align": "left", "baseline": "middle"},
          "encoding": {
            "x": {"field": "x", "type": "quantitative", "axis": null},
            "y": {"field": "y", "type": "quantitative", "axis": null},
            "text": {"field": "t"},
            "color": {"field": "s", "type": "nominal", "legend": null}
          }
        },
        {
          "data": {"name": "b_big"},
          "mark": {"type": "text", "fontSize": 28, "fontWeight": "bold", "align": "left", "baseline": "middle"},
          "encoding": {
            "x": {"field": "x", "type": "quantitative", "axis": {"orient": "top", "labels": false, "ticks": false, "domain": true, "title": null}},
            "y": {"field": "y", "type": "quantitative", "axis": null},
            "text": {"field": "t"},
            "color": {"field": "s", "type": "nominal", "legend": null}
          }
        }
      ]
    }
  ]
}
